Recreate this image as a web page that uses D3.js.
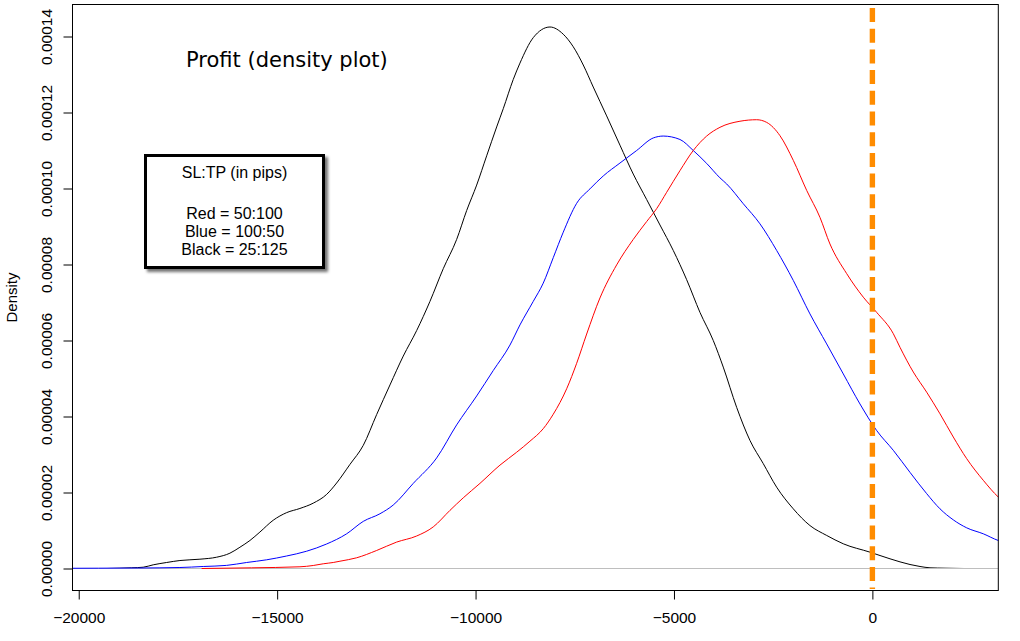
<!DOCTYPE html>
<html>
<head>
<meta charset="utf-8">
<script src="https://cdn.jsdelivr.net/npm/d3@7"></script>
<style>
  html, body { margin: 0; padding: 0; background: #ffffff; }
  svg { display: block; }
</style>
</head>
<body>
<div id="chart"></div>
<script>
// ---------- data ----------
const xTicks = [-20000, -15000, -10000, -5000, 0];
const yTicks = [0, 0.00002, 0.00004, 0.00006, 0.00008, 0.00010, 0.00012, 0.00014];
const yTickLabels = ["0.00000", "0.00002", "0.00004", "0.00006", "0.00008", "0.00010", "0.00012", "0.00014"];

const titleText = "Profit (density plot)";
const yLabel = "Density";
const legendLines = ["SL:TP (in pips)", "", "Red = 50:100", "Blue = 100:50", "Black = 25:125"];
const breakEven = 0;

// Black = 25:125
const blackX = [-19293, -18667, -18375, -18123, -17785, -17450, -16946, -16525, -16190, -15938, -15686, -15434, -15099, -14761, -14426, -14090, -13753, -13501, -13165, -12830, -12493, -12157, -11822, -11485, -11149, -10814, -10476, -10224, -9972, -9720, -9468, -9302, -9050, -8881, -8546, -8125, -7790, -7538, -7286, -7034, -6696, -6361, -6026, -5688, -5353, -5018, -4680, -4345, -4010, -3758, -3420, -3085, -2750, -2412, -1993, -1573, -1152, -733, -60, 444, 948, 1200, 1452, 1830, 2309];
const blackY = [0, 1.8e-7, 3.4e-7, 9.7e-7, 1.58e-6, 2.1e-6, 2.45e-6, 2.97e-6, 4.03e-6, 5.6e-6, 7.37e-6, 9.6e-6, 1.27e-5, 1.47e-5, 1.58e-5, 1.72e-5, 1.95e-5, 2.25e-5, 2.74e-5, 3.24e-5, 4.05e-5, 4.83e-5, 5.59e-5, 6.26e-5, 7.03e-5, 7.89e-5, 8.66e-5, 9.42e-5, 1.009e-4, 1.086e-4, 1.162e-4, 1.21e-4, 1.287e-4, 1.33e-4, 1.397e-4, 1.425e-4, 1.406e-4, 1.373e-4, 1.325e-4, 1.267e-4, 1.191e-4, 1.114e-4, 1.038e-4, 9.71e-5, 9.04e-5, 8.37e-5, 7.6e-5, 6.74e-5, 6.0e-5, 5.3e-5, 4.24e-5, 3.37e-5, 2.76e-5, 2.14e-5, 1.57e-5, 1.13e-5, 8.7e-6, 6.5e-6, 4.3e-6, 2.55e-6, 1.05e-6, 5.3e-7, 1.8e-7, 8e-8, 0];

// Blue = 100:50
const blueX = [-20600, -19500, -18500, -17450, -16862, -16273, -15769, -15265, -14761, -14257, -13753, -13249, -12830, -12410, -12075, -11570, -10980, -10476, -9972, -9554, -9133, -8881, -8546, -8294, -8042, -7790, -7452, -7117, -6782, -6361, -5940, -5522, -5270, -4849, -4514, -4176, -3841, -3672, -3254, -2833, -2412, -1993, -1573, -1152, -733, -313, 108, 527, 948, 1368, 1704, 2039, 2377, 2795, 3173, 3450];
const blueY = [5e-8, 8e-8, 1.3e-7, 2.6e-7, 5.3e-7, 8.2e-7, 1.58e-6, 2.29e-6, 3.29e-6, 4.55e-6, 6.45e-6, 9.13e-6, 1.24e-5, 1.44e-5, 1.67e-5, 2.24e-5, 2.91e-5, 3.78e-5, 4.54e-5, 5.21e-5, 5.88e-5, 6.41e-5, 7.03e-5, 7.51e-5, 8.18e-5, 8.85e-5, 9.61e-5, 9.99e-5, 1.033e-4, 1.067e-4, 1.1e-4, 1.133e-4, 1.138e-4, 1.129e-4, 1.1e-4, 1.066e-4, 1.028e-4, 1.012e-4, 9.6e-5, 9.07e-5, 8.37e-5, 7.58e-5, 6.7e-5, 5.91e-5, 5.12e-5, 4.33e-5, 3.63e-5, 3.11e-5, 2.53e-5, 1.97e-5, 1.57e-5, 1.28e-5, 1.07e-5, 9.13e-6, 7.37e-6, 6.6e-6];

// Red = 50:100
const redX = [-16903, -15643, -14425, -14090, -13838, -13586, -13417, -12996, -12493, -11989, -11485, -11066, -10645, -10310, -9889, -9385, -8964, -8629, -8294, -8042, -7704, -7452, -7200, -6865, -6444, -6026, -5688, -5436, -5184, -4849, -4514, -4176, -3841, -3337, -2916, -2664, -2329, -1993, -1656, -1321, -1069, -648, -229, 108, 527, 696, 1031, 1368, 1704, 2039, 2377, 2795, 3173, 3450];
const redY = [0, 1.8e-7, 4.5e-7, 7.9e-7, 1.24e-6, 1.58e-6, 1.92e-6, 2.82e-6, 4.74e-6, 6.95e-6, 8.55e-6, 1.095e-5, 1.53e-5, 1.86e-5, 2.24e-5, 2.72e-5, 3.06e-5, 3.35e-5, 3.68e-5, 4.06e-5, 4.73e-5, 5.4e-5, 6.17e-5, 7.12e-5, 7.99e-5, 8.66e-5, 9.13e-5, 9.47e-5, 9.9e-5, 1.047e-4, 1.1e-4, 1.138e-4, 1.161e-4, 1.177e-4, 1.181e-4, 1.174e-4, 1.139e-4, 1.074e-4, 9.95e-5, 9.24e-5, 8.54e-5, 7.76e-5, 7.14e-5, 6.74e-5, 6.18e-5, 5.82e-5, 5.17e-5, 4.64e-5, 4.07e-5, 3.46e-5, 2.89e-5, 2.32e-5, 1.88e-5, 1.65e-5];

// ---------- layout ----------
const W = 1020, H = 641;
const box = { left: 72.5, right: 998.3, top: 4.5, bottom: 590.5 };
const xDomain = [-20157, 3173];

const svg = d3.select("#chart").append("svg")
  .attr("width", W).attr("height", H)
  .attr("viewBox", `0 0 ${W} ${H}`);

const x = d3.scaleLinear().domain(xDomain).range([box.left, box.right]);
// y(0) = 568.5, y(0.00014) = 36.5
const yBase = d3.scaleLinear().domain([0, 0.00014]).range([568.5, 36.5]);
const y = d3.scaleLinear()
  .domain([yBase.invert(box.bottom), yBase.invert(box.top)])
  .range([box.bottom, box.top]);

const defs = svg.append("defs");
defs.append("clipPath").attr("id", "plotClip")
  .append("rect")
  .attr("x", box.left).attr("y", box.top)
  .attr("width", box.right - box.left).attr("height", box.bottom - box.top);

const shadow = defs.append("filter").attr("id", "shadow")
  .attr("x", "-10%").attr("y", "-10%").attr("width", "130%").attr("height", "140%");
shadow.append("feDropShadow")
  .attr("dx", 3).attr("dy", 3).attr("stdDeviation", 1.6)
  .attr("flood-color", "#000").attr("flood-opacity", 0.55);

const plot = svg.append("g").attr("clip-path", "url(#plotClip)");

const line = d3.line()
  .x(d => x(d[0]))
  .y(d => y(d[1]))
  .curve(d3.curveMonotoneX);

const zip = (xs, ys) => xs.map((v, i) => [v, ys[i]]);

// black curve first (the main density plot)
plot.append("path")
  .datum(zip(blackX, blackY))
  .attr("d", line)
  .attr("fill", "none").attr("stroke", "#000000").attr("stroke-width", 1);

// zero line
plot.append("line")
  .attr("x1", box.left).attr("x2", box.right)
  .attr("y1", y(0)).attr("y2", y(0))
  .attr("stroke", "#bebebe").attr("stroke-width", 1);

plot.append("path")
  .datum(zip(blueX, blueY))
  .attr("d", line)
  .attr("fill", "none").attr("stroke", "#0000ff").attr("stroke-width", 1);

plot.append("path")
  .datum(zip(redX, redY))
  .attr("d", line)
  .attr("fill", "none").attr("stroke", "#ff0000").attr("stroke-width", 1);

// break-even dashed line
plot.append("line")
  .attr("x1", x(breakEven)).attr("x2", x(breakEven))
  .attr("y1", 8).attr("y2", 589)
  .attr("stroke", "#ff8c00").attr("stroke-width", 5.4)
  .attr("stroke-dasharray", "14,6.7");

// box
svg.append("rect")
  .attr("x", box.left).attr("y", box.top)
  .attr("width", box.right - box.left).attr("height", box.bottom - box.top)
  .attr("fill", "none").attr("stroke", "#000").attr("stroke-width", 1);

// x axis
const xAxis = svg.append("g")
  .attr("transform", `translate(0,${box.bottom})`)
  .call(d3.axisBottom(x).tickValues(xTicks).tickSize(9).tickPadding(20).tickFormat(d3.format("d")));
xAxis.select(".domain").attr("d", `M${x(xTicks[0])},0H${x(xTicks[xTicks.length - 1])}`);
xAxis.selectAll("text")
  .attr("font-family", "'Liberation Sans', Arial, sans-serif")
  .attr("font-size", "15.5px").attr("fill", "#000")
  .attr("dy", "0.35em").attr("y", 27);
xAxis.selectAll("line").attr("stroke", "#000");

// y axis
const yAxis = svg.append("g")
  .attr("transform", `translate(${box.left},0)`)
  .call(d3.axisLeft(y).tickValues(yTicks).tickSize(9).tickFormat((d, i) => yTickLabels[i]));
yAxis.select(".domain").attr("d", `M0,${y(yTicks[0])}V${y(yTicks[yTicks.length - 1])}`);
yAxis.selectAll("line").attr("stroke", "#000");
yAxis.selectAll("text")
  .attr("font-family", "'Liberation Sans', Arial, sans-serif")
  .attr("font-size", "15.5px").attr("fill", "#000")
  .attr("x", 0).attr("y", 0).attr("dy", null)
  .attr("text-anchor", "middle")
  .attr("transform", `translate(${52 - box.left},0) rotate(-90)`);

// y label
svg.append("text")
  .attr("transform", `translate(17,${(box.top + box.bottom) / 2}) rotate(-90)`)
  .attr("text-anchor", "middle")
  .attr("font-family", "'Liberation Sans', Arial, sans-serif")
  .attr("font-size", "15px")
  .text(yLabel);

// title
svg.append("text")
  .attr("x", 186).attr("y", 66.7)
  .attr("font-family", "'DejaVu Sans', Verdana, sans-serif")
  .attr("font-size", "21px").attr("fill", "#000")
  .text(titleText);

// legend box
const lg = svg.append("g");
lg.append("rect")
  .attr("x", 145.5).attr("y", 155.5).attr("width", 178).attr("height", 112)
  .attr("fill", "#fff").attr("stroke", "#000").attr("stroke-width", 3)
  .attr("filter", "url(#shadow)");
const lineBaselines = [178, 198, 219, 237, 255];
lg.selectAll("text.leg")
  .data(legendLines)
  .enter().append("text")
  .attr("class", "leg")
  .attr("x", 234.5)
  .attr("y", (d, i) => lineBaselines[i])
  .attr("text-anchor", "middle")
  .attr("font-family", "'Liberation Sans', Arial, sans-serif")
  .attr("font-size", "16px").attr("fill", "#000")
  .text(d => d);
</script>
</body>
</html>
